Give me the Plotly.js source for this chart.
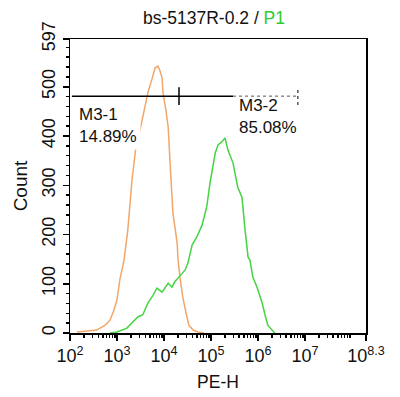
<!DOCTYPE html>
<html><head><meta charset="utf-8">
<script src="https://cdn.plot.ly/plotly-3.0.1.min.js"></script>
<style>html,body{margin:0;padding:0;background:#fff}#chart{width:400px;height:397px}</style>
</head><body><div id="chart"></div>
<script>
// Control (orange) histogram: log10(PE-H) and counts
const ctrlLog = [2.15,2.40,2.57,2.64,2.75,2.85,2.93,3.00,3.06,3.15,3.23,3.32,3.40,3.53,3.66,3.74,3.81,3.87,3.91,3.96,3.98,4.04,4.09,4.13,4.19,4.28,4.30,4.34,4.40,4.47,4.53,4.62,4.72,4.85];
const ctrlCount = [2,4,6,10,16,26,45,67,108,148,209,311,375,430,489,514,538,542,534,518,487,453,418,345,244,183,148,114,73,41,16,6,2,0];
// Sample (green) histogram
const smpLog = [2.85,3.00,3.21,3.34,3.45,3.55,3.66,3.77,3.85,3.96,4.09,4.17,4.23,4.34,4.45,4.51,4.60,4.70,4.81,4.91,4.98,5.09,5.15,5.23,5.30,5.36,5.47,5.57,5.66,5.72,5.79,5.83,5.89,5.98,6.09,6.15,6.21,6.30,6.36];
const smpCount = [0,2,10,22,33,37,61,77,91,83,101,93,104,116,128,142,179,195,219,256,305,365,382,388,396,372,345,296,276,215,154,148,114,93,61,37,16,6,0];
// Gate markers (log10 positions) and level
const gateLevel = 481;
const gateStart = 2.04, gateSplit = 4.32, gateSolidEnd = 5.47, gateEnd = 6.85;
const gateLabels = ["M3-1<br>14.89%", "M3-2<br>85.08%"];
// Axis ticks
const xTickExp = [2,3,4,5,6,7,8.3];
const xTickText = ["10<sup>2</sup>","10<sup>3</sup>","10<sup>4</sup>","10<sup>5</sup>","10<sup>6</sup>","10<sup>7</sup>","10<sup>8.3</sup>"];
const yTicks = [0,100,200,300,400,500,597];

const p10 = a => a.map(v => Math.pow(10, v));
const minorX = [];
for (let d = 2; d <= 8; d++) for (let m = 2; m <= 9; m++) { const v = m * Math.pow(10, d); if (Math.log10(v) < 8.3) minorX.push(v); }
const minorY = [];
for (let v = 20; v < 597; v += 20) if (v % 100 !== 0) minorY.push(v);

const traces = [
  {x: p10(ctrlLog), y: ctrlCount, mode: 'lines', line: {color: '#F2A66A', width: 1.5, shape: 'linear'}, hoverinfo: 'skip'},
  {x: p10(smpLog), y: smpCount, mode: 'lines', line: {color: '#44D444', width: 1.5}, hoverinfo: 'skip'},
  {x: p10([gateStart, gateSolidEnd]), y: [gateLevel, gateLevel], mode: 'lines', line: {color: '#000', width: 1.5}, hoverinfo: 'skip'},
  {x: p10([gateSolidEnd, gateEnd]), y: [gateLevel, gateLevel], mode: 'lines', line: {color: '#555', width: 1, dash: 'dot'}, hoverinfo: 'skip'},
  {x: p10([gateSplit, gateSplit]), y: [gateLevel - 18, gateLevel + 18], mode: 'lines', line: {color: '#000', width: 1.5}, hoverinfo: 'skip'},
  {x: p10([gateEnd, gateEnd]), y: [gateLevel - 18, gateLevel + 18], mode: 'lines', line: {color: '#000', width: 1, dash: 'dot'}, hoverinfo: 'skip'}
];

const F = 'Liberation Sans, Arial, sans-serif';
const layout = {
  width: 400, height: 397,
  margin: {l: 70, r: 34, t: 39, b: 64},
  paper_bgcolor: '#fff', plot_bgcolor: '#fff',
  showlegend: false,
  font: {family: F, color: '#111', size: 15},
  title: {text: 'bs-5137R-0.2 / <span style="color:#2ecc2e">P1</span>', x: 0.535, xanchor: 'center', y: 0.955, yanchor: 'middle', font: {family: F, size: 17.5, color: '#111'}},
  xaxis: {
    type: 'log', range: [2, 8.3], showgrid: false, zeroline: false,
    showline: true, linecolor: '#000', linewidth: 1.5, mirror: true,
    ticks: 'outside', ticklen: 6, tickcolor: '#000', tickwidth: 1.5,
    tickvals: p10(xTickExp), ticktext: xTickText, tickfont: {family: F, size: 18, color: '#111'},
    minor: {ticks: 'outside', ticklen: 3, tickcolor: '#000', tickvals: minorX, showgrid: false},
    title: {text: 'PE-H', font: {family: F, size: 17.5, color: '#111'}, standoff: 10}
  },
  yaxis: {
    range: [0, 597], showgrid: false, zeroline: false,
    showline: true, linecolor: '#000', linewidth: 1.5, mirror: true,
    ticks: 'outside', ticklen: 6, tickcolor: '#000', tickwidth: 1.5,
    tickvals: yTicks, tickangle: -90, tickfont: {family: F, size: 18, color: '#111'},
    minor: {ticks: 'outside', ticklen: 3, tickcolor: '#000', tickvals: minorY, showgrid: false},
    title: {text: 'Count', font: {family: F, size: 19, color: '#111'}, standoff: 6}
  },
  annotations: [
    {xref: 'paper', yref: 'paper', x: 0.016, y: 0.706, xanchor: 'left', yanchor: 'middle', align: 'left', text: gateLabels[0], showarrow: false, bgcolor: '#fff', font: {family: F, size: 17, color: '#111'}, borderpad: 3},
    {xref: 'paper', yref: 'paper', x: 0.568, y: 0.736, xanchor: 'left', yanchor: 'middle', align: 'left', text: gateLabels[1], showarrow: false, font: {family: F, size: 17, color: '#111'}, borderpad: 0}
  ]
};
Plotly.newPlot('chart', traces, layout, {staticPlot: true, displayModeBar: false});
</script></body></html>
